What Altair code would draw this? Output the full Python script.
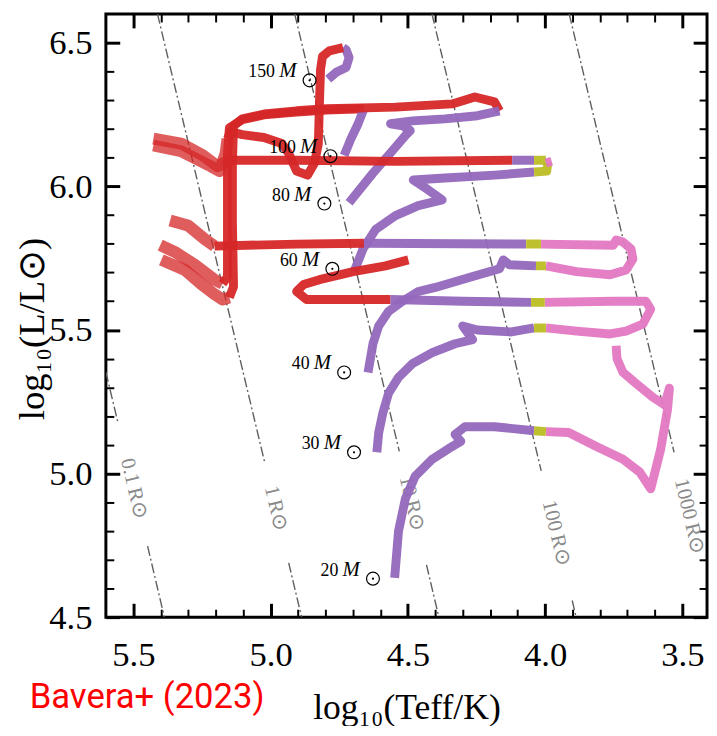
import altair as alt
import pandas as pd

# ---------------- data (log10 Teff, log10 L/Lsun) ----------------
PHASE_NAMES = ["H-rich", "transition", "RSG", "stripped"]
PHASE_COLORS = ["#9467bd", "#bcbd22", "#e377c2", "#d62728"]

# 150 Msun
m150_h_T = [4.790, 4.761, 4.725, 4.714, 4.725, 4.736]
m150_h_L = [6.373, 6.397, 6.414, 6.448, 6.476, 6.483]
m150_s_T = [4.736, 4.786, 4.811, 4.818, 4.822, 4.826, 4.840, 4.865, 4.905, 4.934, 4.959, 5.024, 5.103, 5.146, 5.157]
m150_s_L = [6.483, 6.472, 6.452, 6.407, 6.287, 6.149, 6.081, 6.039, 6.053, 6.115, 6.149, 6.170, 6.180, 6.190, 6.166]
m150_f_T = [5.157, 5.164, 5.186, 5.218, 5.326, 5.427]
m150_f_L = [6.166, 6.115, 6.053, 6.070, 6.122, 6.142]

# 100 Msun
m100_h_T = [4.732, 4.707, 4.681, 4.660]
m100_h_L = [6.108, 6.166, 6.218, 6.270]
m100_s_T = [4.660, 4.797, 4.905, 5.024, 5.103, 5.150, 5.157, 5.157, 5.157, 5.175]
m100_s_L = [6.270, 6.266, 6.259, 6.249, 6.232, 6.204, 6.115, 5.874, 5.685, 5.661]
m100_f_T = [5.175, 5.204, 5.276, 5.348, 5.402]
m100_f_L = [5.661, 5.675, 5.727, 5.771, 5.795]

# 80 Msun
m80_h_T = [4.714, 4.627, 4.555, 4.509, 4.491, 4.519, 4.563, 4.483, 4.365, 4.246, 4.166]
m80_h_L = [5.943, 6.046, 6.125, 6.177, 6.194, 6.211, 6.218, 6.228, 6.235, 6.246, 6.263]
m80_s_T = [4.166, 4.184, 4.256, 4.303, 4.339, 4.545, 4.797, 4.905, 5.024, 5.103, 5.135, 5.139, 5.139, 5.135, 5.150]
m80_s_L = [6.263, 6.294, 6.311, 6.297, 6.287, 6.276, 6.270, 6.263, 6.252, 6.235, 6.211, 6.081, 5.874, 5.651, 5.613]
m80_f_T = [5.150, 5.175, 5.204, 5.254, 5.312, 5.398]
m80_f_L = [5.613, 5.606, 5.624, 5.661, 5.709, 5.744]

# 60 Msun
m60_h_T = [4.696, 4.663, 4.617, 4.545, 4.462, 4.375, 4.426, 4.480, 4.365, 4.184, 4.040]
m60_h_L = [5.703, 5.782, 5.850, 5.898, 5.933, 5.953, 5.988, 6.022, 6.029, 6.039, 6.050]
m60_t_T = [4.040, 3.994, 3.990]
m60_t_L = [6.050, 6.053, 6.081]
m60_r_T = [3.997, 3.976]
m60_r_L = [6.081, 6.087]
m60_t2_T = [3.997, 4.040]
m60_t2_L = [6.091, 6.091]
m60_h2_T = [4.040, 4.120]
m60_h2_L = [6.091, 6.091]
m60_s_T = [4.120, 4.545, 4.905, 5.146]
m60_s_L = [6.091, 6.087, 6.091, 6.091]
m60_f_T = [5.146, 5.171, 5.193, 5.247, 5.326, 5.427]
m60_f_L = [6.091, 6.081, 6.070, 6.108, 6.149, 6.166]

# 40 Msun
m40_h_T = [4.645, 4.627, 4.606, 4.570, 4.519, 4.462, 4.400, 4.267, 4.166, 4.152, 4.130, 4.033]
m40_h_L = [5.352, 5.452, 5.514, 5.565, 5.600, 5.634, 5.648, 5.685, 5.713, 5.744, 5.727, 5.723]
m40_t_T = [4.033, 3.997]
m40_t_L = [5.723, 5.723]
m40_r_T = [3.997, 3.885, 3.763, 3.705, 3.680, 3.687, 3.716, 3.741, 3.752, 4.015]
m40_r_L = [5.723, 5.703, 5.692, 5.709, 5.747, 5.782, 5.806, 5.813, 5.795, 5.799]
m40_t2_T = [4.015, 4.069]
m40_t2_L = [5.799, 5.799]
m40_h2_T = [4.069, 4.660]
m40_h2_L = [5.799, 5.802]
m40_s_T = [4.660, 4.905, 5.204]
m40_s_L = [5.802, 5.799, 5.792]
m40_f_T = [5.204, 5.240, 5.301, 5.366]
m40_f_L = [5.792, 5.816, 5.864, 5.881]

# 30 Msun
m30_h_T = [4.613, 4.606, 4.591, 4.570, 4.534, 4.483, 4.411, 4.328, 4.264, 4.300, 4.246, 4.123, 4.040]
m30_h_L = [5.074, 5.143, 5.211, 5.280, 5.335, 5.383, 5.421, 5.452, 5.466, 5.514, 5.500, 5.493, 5.507]
m30_t_T = [4.040, 3.997]
m30_t_L = [5.507, 5.507]
m30_r_T = [3.997, 3.885, 3.763, 3.705, 3.644, 3.615, 3.633, 3.752, 4.001]
m30_r_L = [5.507, 5.496, 5.486, 5.496, 5.520, 5.572, 5.600, 5.600, 5.596]
m30_t2_T = [4.001, 4.051]
m30_t2_L = [5.596, 5.596]
m30_h2_T = [4.051, 4.300, 4.563]
m30_h2_L = [5.596, 5.600, 5.606]
m30_s_T = [4.563, 4.869, 4.905, 4.880, 4.822, 4.699, 4.581, 4.498]
m30_s_L = [5.606, 5.606, 5.634, 5.658, 5.675, 5.703, 5.723, 5.744]

# 20 Msun
m20_h_T = [4.548, 4.534, 4.509, 4.473, 4.411, 4.339, 4.307, 4.328, 4.292, 4.184, 4.040]
m20_h_L = [4.637, 4.799, 4.912, 4.991, 5.050, 5.094, 5.112, 5.136, 5.163, 5.163, 5.149]
m20_t_T = [4.040, 3.997]
m20_t_L = [5.149, 5.146]
m20_r_T = [3.997, 3.914, 3.813, 3.716, 3.655, 3.615, 3.579, 3.554, 3.547, 3.565, 3.608, 3.669, 3.716, 3.738, 3.741]
m20_r_L = [5.146, 5.143, 5.094, 5.050, 5.005, 4.947, 5.084, 5.222, 5.297, 5.239, 5.266, 5.314, 5.352, 5.400, 5.445]

# iso-radius lines (segment endpoints, broken where the label sits)
iso_seg = ["0.1a", "0.1a", "0.1b", "0.1b", "1a", "1a", "1b", "1b", "10a", "10a", "10b", "10b",
           "100a", "100a", "100b", "100b", "1000a", "1000a"]
iso_T = [5.600, 5.556, 5.448, 5.387, 5.412, 5.020, 4.934, 4.887, 4.912, 4.531, 4.432, 4.387,
         4.412, 4.014, 3.901, 3.887, 3.912, 3.530]
iso_L = [5.353, 5.177, 4.747, 4.500, 6.600, 5.033, 4.689, 4.500, 6.600, 5.077, 4.682, 4.500,
         6.600, 5.009, 4.558, 4.500, 6.600, 5.074]
iso_label_text = ["0.1\u2009R⊙", "1\u2009R⊙", "10\u2009R⊙", "100\u2009R⊙", "1000\u2009R⊙"]
iso_label_T = [5.4985, 4.981, 4.4855, 3.960, 3.474]
iso_label_L = [4.947, 4.878, 4.895, 4.792, 4.850]

# initial-mass labels
mass_text = ["150", "100", "80", "60", "40", "30", "20"]
mass_T = [4.858, 4.782, 4.804, 4.775, 4.732, 4.696, 4.627]
mass_L = [6.369, 6.105, 5.940, 5.713, 5.352, 5.074, 4.634]

x_tick_values = [5.5, 5.4, 5.3, 5.2, 5.1, 5.0, 4.9, 4.8, 4.7, 4.6, 4.5, 4.4, 4.3, 4.2, 4.1,
                 4.0, 3.9, 3.8, 3.7, 3.6, 3.5]
y_tick_values = [4.5, 4.6, 4.7, 4.8, 4.9, 5.0, 5.1, 5.2, 5.3, 5.4, 5.5, 5.6, 5.7, 5.8, 5.9,
                 6.0, 6.1, 6.2, 6.3, 6.4, 6.5]

# ---------------- tables ----------------
segments = [
    ("150", "H-rich", m150_h_T, m150_h_L, False),
    ("150", "stripped", m150_s_T, m150_s_L, False),
    ("150", "stripped", m150_f_T, m150_f_L, True),
    ("100", "stripped", m100_s_T, m100_s_L, False),
    ("100", "stripped", m100_f_T, m100_f_L, True),
    ("100", "H-rich", m100_h_T, m100_h_L, False),
    ("80", "stripped", m80_s_T, m80_s_L, False),
    ("80", "stripped", m80_f_T, m80_f_L, True),
    ("80", "H-rich", m80_h_T, m80_h_L, False),
    ("60", "stripped", m60_s_T, m60_s_L, False),
    ("60", "stripped", m60_f_T, m60_f_L, True),
    ("60", "H-rich", m60_h_T, m60_h_L, False),
    ("60", "H-rich", m60_h2_T, m60_h2_L, False),
    ("60", "transition", m60_t_T, m60_t_L, False),
    ("60", "transition", m60_t2_T, m60_t2_L, False),
    ("60", "RSG", m60_r_T, m60_r_L, False),
    ("40", "stripped", m40_s_T, m40_s_L, False),
    ("40", "stripped", m40_f_T, m40_f_L, True),
    ("40", "H-rich", m40_h_T, m40_h_L, False),
    ("40", "H-rich", m40_h2_T, m40_h2_L, False),
    ("40", "RSG", m40_r_T, m40_r_L, False),
    ("40", "transition", m40_t_T, m40_t_L, False),
    ("40", "transition", m40_t2_T, m40_t2_L, False),
    ("30", "stripped", m30_s_T, m30_s_L, False),
    ("30", "H-rich", m30_h_T, m30_h_L, False),
    ("30", "H-rich", m30_h2_T, m30_h2_L, False),
    ("30", "RSG", m30_r_T, m30_r_L, False),
    ("30", "transition", m30_t_T, m30_t_L, False),
    ("30", "transition", m30_t2_T, m30_t2_L, False),
    ("20", "H-rich", m20_h_T, m20_h_L, False),
    ("20", "RSG", m20_r_T, m20_r_L, False),
    ("20", "transition", m20_t_T, m20_t_L, False),
]
rows = []
for si, (mass, phase, Ts, Ls, faded) in enumerate(segments):
    for i, (t, l) in enumerate(zip(Ts, Ls)):
        rows.append({"seg": f"s{si:02d}", "mass": mass, "phase": phase, "idx": i,
                     "T": t, "L": l, "faded": faded})
tracks = pd.DataFrame(rows)
tracks_main = tracks[~tracks["faded"]]
tracks_faded = tracks[tracks["faded"]]

iso_df = pd.DataFrame({"seg": iso_seg, "T": iso_T, "L": iso_L})
iso_lab = pd.DataFrame({"text": iso_label_text, "T": iso_label_T, "L": iso_label_L})
mass_df = pd.DataFrame({"num": mass_text, "T": mass_T, "L": mass_L, "M": ["M"] * len(mass_text)})

# ---------------- styling ----------------
SERIF = "Liberation Serif"
xs = alt.Scale(domain=[5.6, 3.41], nice=False, zero=False)
ys = alt.Scale(domain=[4.5, 6.6], nice=False, zero=False)

major = "abs(datum.value*2 - round(datum.value*2)) < 0.001"
tsize = {"expr": f"{major} ? -14 : -8"}
twidth = {"expr": f"{major} ? 3 : 2"}
lexpr = f"{major} ? format(datum.value, '.1f') : ''"

common = dict(tickSize=tsize, tickWidth=twidth, tickColor="black", domain=False, grid=False,
              labelOverlap=False, labelFlush=False)

x_bottom = alt.Axis(orient="bottom", values=x_tick_values, labelExpr=lexpr, labelFont=SERIF,
                    labelFontSize=35, labelFontWeight="normal", labelColor="black", labelPadding=35,
                    title="log₁₀(Teff/K)", titleFont=SERIF, titleFontSize=36,
                    titleFontWeight="normal", titleColor="black", titleY=92,
                    titleBaseline="middle", titleX=304, titleAlign="center", **common)
y_left = alt.Axis(orient="left", values=y_tick_values, labelExpr=lexpr, labelFont=SERIF,
                  labelFontSize=35, labelFontWeight="normal", labelColor="black", labelPadding=28,
                  labelBaseline="middle",
                  title="log₁₀(L/L⊙)", titleFont=SERIF, titleFontSize=37,
                  titleFontWeight="normal", titleColor="black", titleX=-74, titleY=318,
                  titleBaseline="middle", titleAlign="center", titleAngle=270, **common)
x_top = alt.Axis(orient="top", values=x_tick_values, labels=False, title=None, **common)
y_right = alt.Axis(orient="right", values=y_tick_values, labels=False, title=None, **common)

color = alt.Color("phase:N", scale=alt.Scale(domain=PHASE_NAMES, range=PHASE_COLORS), legend=None)

iso_lines = alt.Chart(iso_df).mark_line(
    color="#5e5e5e", strokeWidth=1.4, strokeDash=[10, 3, 2, 3], clip=True
).encode(
    x=alt.X("T:Q", scale=xs, axis=x_bottom),
    y=alt.Y("L:Q", scale=ys, axis=y_left),
    detail="seg:N",
)

iso_text = alt.Chart(iso_lab).mark_text(
    font=SERIF, fontSize=21, color="#8a8a8a", angle=76.6, align="center", baseline="middle"
).encode(
    x=alt.X("T:Q", scale=xs, axis=None),
    y=alt.Y("L:Q", scale=ys, axis=None),
    text="text:N",
)

faded = alt.Chart(tracks_faded).mark_line(
    strokeWidth=12, opacity=0.75, strokeJoin="round", strokeCap="butt", clip=True
).encode(
    x=alt.X("T:Q", scale=xs, axis=None),
    y=alt.Y("L:Q", scale=ys, axis=None),
    color=color, detail="seg:N", order="idx:Q",
)

main = alt.Chart(tracks_main).mark_line(
    strokeWidth=9, opacity=0.95, strokeJoin="round", strokeCap="butt", clip=True
).encode(
    x=alt.X("T:Q", scale=xs, axis=x_top),
    y=alt.Y("L:Q", scale=ys, axis=y_right),
    color=color, detail="seg:N", order="idx:Q",
)

pos = dict(x=alt.X("T:Q", scale=xs, axis=None), y=alt.Y("L:Q", scale=ys, axis=None))
num_text = alt.Chart(mass_df).mark_text(
    font=SERIF, fontSize=18, color="black", align="right", baseline="alphabetic", dx=-35, dy=-3
).encode(text="num:N", **pos)
m_text = alt.Chart(mass_df).mark_text(
    font=SERIF, fontSize=21, fontStyle="italic", color="black", align="center",
    baseline="alphabetic", dx=-22, dy=-3
).encode(text="M:N", **pos)
sun_ring = alt.Chart(mass_df).mark_point(
    shape="circle", filled=False, size=170, strokeWidth=1.2, color="black", opacity=1
).encode(**pos)
sun_dot = alt.Chart(mass_df).mark_point(
    shape="circle", filled=True, size=5, color="black", opacity=1
).encode(**pos)

chart = alt.layer(
    iso_lines, iso_text, faded, main, num_text, m_text, sun_ring, sun_dot
).resolve_axis(
    x="independent", y="independent"
).properties(
    width=608, height=610,
    autosize=alt.AutoSizeParams(type="none"),
    padding={"left": 99, "top": 2, "right": 2, "bottom": 106},
    title=alt.TitleParams("Bavera+ (2023)", orient="bottom", anchor="start", frame="group",
                          color="#ff0000", font="Roboto", fontSize=35, fontWeight="normal",
                          offset=-46, dx=-77),
).configure(
    background="white"
).configure_view(
    stroke="black", strokeWidth=3
)

chart.save("out.html", embed_options={"renderer": "svg", "actions": False})
